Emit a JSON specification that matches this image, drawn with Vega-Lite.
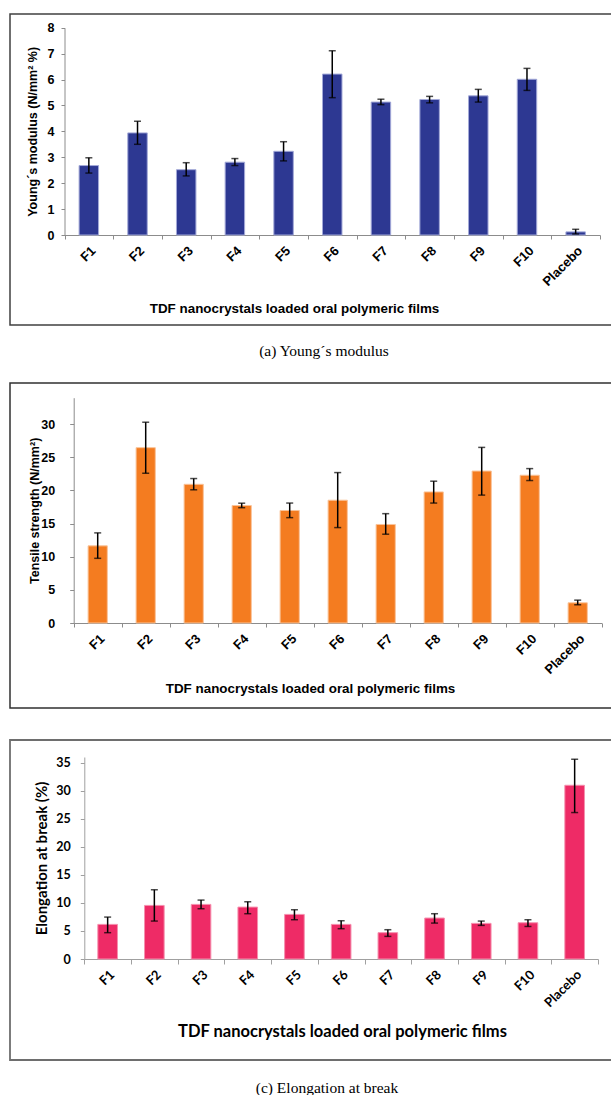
{
  "$schema": "https://vega.github.io/schema/vega-lite/v6.json",
  "padding": {"left": 9, "top": 13, "right": 0, "bottom": 0},
  "background": "white",
  "datasets": {
    "films": [
      {"film": "F1", "ym": 2.68, "ym_lo": 2.39, "ym_hi": 2.98, "ts": 11.64, "ts_lo": 9.76, "ts_hi": 13.6, "eb": 6.17, "eb_lo": 4.69, "eb_hi": 7.47},
      {"film": "F2", "ym": 3.94, "ym_lo": 3.5, "ym_hi": 4.39, "ts": 26.46, "ts_lo": 22.6, "ts_hi": 30.3, "eb": 9.55, "eb_lo": 6.76, "eb_hi": 12.34},
      {"film": "F3", "ym": 2.52, "ym_lo": 2.28, "ym_hi": 2.79, "ts": 20.93, "ts_lo": 20.1, "ts_hi": 21.8, "eb": 9.73, "eb_lo": 8.96, "eb_hi": 10.5},
      {"film": "F4", "ym": 2.81, "ym_lo": 2.68, "ym_hi": 2.95, "ts": 17.73, "ts_lo": 17.4, "ts_hi": 18.08, "eb": 9.25, "eb_lo": 8.07, "eb_hi": 10.2},
      {"film": "F5", "ym": 3.23, "ym_lo": 2.86, "ym_hi": 3.6, "ts": 16.98, "ts_lo": 15.9, "ts_hi": 18.1, "eb": 7.95, "eb_lo": 7.0, "eb_hi": 8.78},
      {"film": "F6", "ym": 6.21, "ym_lo": 5.3, "ym_hi": 7.11, "ts": 18.53, "ts_lo": 14.4, "ts_hi": 22.7, "eb": 6.17, "eb_lo": 5.4, "eb_hi": 6.82},
      {"film": "F7", "ym": 5.13, "ym_lo": 5.03, "ym_hi": 5.24, "ts": 14.87, "ts_lo": 13.4, "ts_hi": 16.5, "eb": 4.69, "eb_lo": 4.03, "eb_hi": 5.22},
      {"film": "F8", "ym": 5.23, "ym_lo": 5.1, "ym_hi": 5.35, "ts": 19.78, "ts_lo": 18.1, "ts_hi": 21.4, "eb": 7.3, "eb_lo": 6.4, "eb_hi": 8.07},
      {"film": "F9", "ym": 5.37, "ym_lo": 5.13, "ym_hi": 5.62, "ts": 22.93, "ts_lo": 19.3, "ts_hi": 26.5, "eb": 6.35, "eb_lo": 5.99, "eb_hi": 6.76},
      {"film": "F10", "ym": 6.01, "ym_lo": 5.58, "ym_hi": 6.43, "ts": 22.3, "ts_lo": 21.5, "ts_hi": 23.3, "eb": 6.46, "eb_lo": 5.8, "eb_hi": 7.0},
      {"film": "Placebo", "ym": 0.12, "ym_lo": 0.04, "ym_hi": 0.22, "ts": 3.05, "ts_lo": 2.75, "ts_hi": 3.45, "eb": 30.96, "eb_lo": 26.1, "eb_hi": 35.6}
    ]
  },
  "config": {
    "axis": {"grid": false},
    "title": {"fontWeight": "normal", "color": "#000000"}
  },
  "spacing": 21,
  "vconcat": [
    {
      "width": 602,
      "height": 311,
      "view": {"stroke": "#404040", "strokeWidth": 1.5, "strokeDash": [602, 311, 913]},
      "title": {"text": "(a)  Young´s modulus", "orient": "bottom", "font": "Liberation Serif", "fontSize": 15.5, "fontWeight": "normal", "color": "#000000", "offset": 19, "dx": 13},
      "data": {"name": "films"},
      "encoding": {
        "x": {
          "field": "film", "type": "nominal", "sort": null,
          "scale": {"range": [54.5, 590], "paddingInner": 0, "paddingOuter": 0},
          "axis": {
            "title": "TDF nanocrystals loaded oral polymeric films",
            "offset": -90, "tickBand": "extent", "labelAngle": -45, "labelOverlap": false,
            "domainColor": "#8c8c8c", "tickColor": "#8c8c8c", "tickSize": 4, "labelPadding": 5,
            "labelFont": "Liberation Sans", "labelFontWeight": "bold", "labelFontSize": 13, "labelColor": "#000000",
            "titleFont": "Liberation Sans", "titleFontWeight": "bold", "titleFontSize": 13.4, "titleColor": "#000000",
            "titleX": 284, "titleY": 73, "titleAlign": "center", "titleBaseline": "middle"
          }
        }
      },
      "layer": [
        {
          "mark": {"type": "bar", "color": "#2d3892", "stroke": "#a3a9d8", "strokeWidth": 1, "width": {"band": 0.4}},
          "encoding": {
            "y": {
              "field": "ym", "type": "quantitative",
              "scale": {"domain": [0, 8], "range": [221, 13.7], "nice": false},
              "axis": {
                "title": "Young´s modulus (N/mm² %)", "offset": -54.5, "values": [0, 1, 2, 3, 4, 5, 6, 7, 8], "labelOverlap": false,
                "domainColor": "#8c8c8c", "tickColor": "#8c8c8c", "tickSize": 3.5, "labelPadding": 7,
                "labelFont": "Liberation Sans", "labelFontWeight": "bold", "labelFontSize": 12.5, "labelColor": "#000000",
                "titleFont": "Liberation Sans", "titleFontWeight": "bold", "titleFontSize": 12.5, "titleColor": "#000000",
                "titleX": -31.8, "titleBaseline": "middle"
              }
            }
          }
        },
        {
          "mark": {"type": "rule", "color": "#000000", "strokeWidth": 1.5},
          "encoding": {
            "y": {
              "field": "ym_lo", "type": "quantitative",
              "axis": {
                "title": "Young´s modulus (N/mm² %)", "offset": -54.5, "values": [0, 1, 2, 3, 4, 5, 6, 7, 8], "labelOverlap": false,
                "domainColor": "#8c8c8c", "tickColor": "#8c8c8c", "tickSize": 3.5, "labelPadding": 7,
                "labelFont": "Liberation Sans", "labelFontWeight": "bold", "labelFontSize": 12.5, "labelColor": "#000000",
                "titleFont": "Liberation Sans", "titleFontWeight": "bold", "titleFontSize": 12.5, "titleColor": "#000000",
                "titleX": -31.8, "titleBaseline": "middle"
              }
            },
            "y2": {"field": "ym_hi"}
          }
        },
        {
          "mark": {"type": "tick", "color": "#000000", "size": 7, "thickness": 1.5},
          "encoding": {
            "y": {
              "field": "ym_lo", "type": "quantitative",
              "axis": {
                "title": "Young´s modulus (N/mm² %)", "offset": -54.5, "values": [0, 1, 2, 3, 4, 5, 6, 7, 8], "labelOverlap": false,
                "domainColor": "#8c8c8c", "tickColor": "#8c8c8c", "tickSize": 3.5, "labelPadding": 7,
                "labelFont": "Liberation Sans", "labelFontWeight": "bold", "labelFontSize": 12.5, "labelColor": "#000000",
                "titleFont": "Liberation Sans", "titleFontWeight": "bold", "titleFontSize": 12.5, "titleColor": "#000000",
                "titleX": -31.8, "titleBaseline": "middle"
              }
            }
          }
        },
        {
          "mark": {"type": "tick", "color": "#000000", "size": 7, "thickness": 1.5},
          "encoding": {
            "y": {
              "field": "ym_hi", "type": "quantitative",
              "axis": {
                "title": "Young´s modulus (N/mm² %)", "offset": -54.5, "values": [0, 1, 2, 3, 4, 5, 6, 7, 8], "labelOverlap": false,
                "domainColor": "#8c8c8c", "tickColor": "#8c8c8c", "tickSize": 3.5, "labelPadding": 7,
                "labelFont": "Liberation Sans", "labelFontWeight": "bold", "labelFontSize": 12.5, "labelColor": "#000000",
                "titleFont": "Liberation Sans", "titleFontWeight": "bold", "titleFontSize": 12.5, "titleColor": "#000000",
                "titleX": -31.8, "titleBaseline": "middle"
              }
            }
          }
        }
      ]
    },
    {
      "spacing": 30,
      "vconcat": [
        {
          "width": 602,
          "height": 325,
          "view": {"stroke": "#303030", "strokeWidth": 1.5, "strokeDash": [602, 325, 927]},
          "data": {"name": "films"},
          "encoding": {
            "x": {
              "field": "film", "type": "nominal", "sort": null,
              "scale": {"range": [63.7, 591.7], "paddingInner": 0, "paddingOuter": 0},
              "axis": {
                "title": "TDF nanocrystals loaded oral polymeric films",
                "offset": -85, "tickBand": "extent", "labelAngle": -45, "labelOverlap": false,
                "domainColor": "#8c8c8c", "tickColor": "#8c8c8c", "tickSize": 4, "labelPadding": 5,
                "labelFont": "Liberation Sans", "labelFontWeight": "bold", "labelFontSize": 13, "labelColor": "#000000",
                "titleFont": "Liberation Sans", "titleFontWeight": "bold", "titleFontSize": 13.4, "titleColor": "#000000",
                "titleX": 300, "titleY": 65, "titleAlign": "center", "titleBaseline": "middle"
              }
            }
          },
          "layer": [
            {
              "mark": {"type": "bar", "color": "#f47c20", "stroke": "#f9c49a", "strokeWidth": 1, "width": {"band": 0.4}},
              "encoding": {
                "y": {
                  "field": "ts", "type": "quantitative",
                  "scale": {"domain": [0, 34], "range": [240, 14.7], "nice": false},
                  "axis": {
                    "title": "Tensile strength (N/mm²)", "offset": -63.7, "values": [0, 5, 10, 15, 20, 25, 30], "labelOverlap": false,
                    "domainColor": "#8c8c8c", "tickColor": "#8c8c8c", "tickSize": 4, "labelPadding": 15,
                    "labelFont": "Liberation Sans", "labelFontWeight": "bold", "labelFontSize": 12.5, "labelColor": "#000000",
                    "titleFont": "Liberation Sans", "titleFontWeight": "bold", "titleFontSize": 12.5, "titleColor": "#000000",
                    "titleX": -39, "titleBaseline": "middle"
                  }
                }
              }
            },
            {
              "mark": {"type": "rule", "color": "#000000", "strokeWidth": 1.5},
              "encoding": {
                "y": {
                  "field": "ts_lo", "type": "quantitative",
                  "axis": {
                    "title": "Tensile strength (N/mm²)", "offset": -63.7, "values": [0, 5, 10, 15, 20, 25, 30], "labelOverlap": false,
                    "domainColor": "#8c8c8c", "tickColor": "#8c8c8c", "tickSize": 4, "labelPadding": 15,
                    "labelFont": "Liberation Sans", "labelFontWeight": "bold", "labelFontSize": 12.5, "labelColor": "#000000",
                    "titleFont": "Liberation Sans", "titleFontWeight": "bold", "titleFontSize": 12.5, "titleColor": "#000000",
                    "titleX": -39, "titleBaseline": "middle"
                  }
                },
                "y2": {"field": "ts_hi"}
              }
            },
            {
              "mark": {"type": "tick", "color": "#000000", "size": 7, "thickness": 1.5},
              "encoding": {
                "y": {
                  "field": "ts_lo", "type": "quantitative",
                  "axis": {
                    "title": "Tensile strength (N/mm²)", "offset": -63.7, "values": [0, 5, 10, 15, 20, 25, 30], "labelOverlap": false,
                    "domainColor": "#8c8c8c", "tickColor": "#8c8c8c", "tickSize": 4, "labelPadding": 15,
                    "labelFont": "Liberation Sans", "labelFontWeight": "bold", "labelFontSize": 12.5, "labelColor": "#000000",
                    "titleFont": "Liberation Sans", "titleFontWeight": "bold", "titleFontSize": 12.5, "titleColor": "#000000",
                    "titleX": -39, "titleBaseline": "middle"
                  }
                }
              }
            },
            {
              "mark": {"type": "tick", "color": "#000000", "size": 7, "thickness": 1.5},
              "encoding": {
                "y": {
                  "field": "ts_hi", "type": "quantitative",
                  "axis": {
                    "title": "Tensile strength (N/mm²)", "offset": -63.7, "values": [0, 5, 10, 15, 20, 25, 30], "labelOverlap": false,
                    "domainColor": "#8c8c8c", "tickColor": "#8c8c8c", "tickSize": 4, "labelPadding": 15,
                    "labelFont": "Liberation Sans", "labelFontWeight": "bold", "labelFontSize": 12.5, "labelColor": "#000000",
                    "titleFont": "Liberation Sans", "titleFontWeight": "bold", "titleFontSize": 12.5, "titleColor": "#000000",
                    "titleX": -39, "titleBaseline": "middle"
                  }
                }
              }
            }
          ]
        },
        {
          "width": 602,
          "height": 320,
          "view": {"stroke": "#6e6e6e", "strokeWidth": 1.8, "strokeDash": [602, 320, 922]},
          "title": {"text": "(c)  Elongation at break", "orient": "bottom", "font": "Liberation Serif", "fontSize": 15.5, "fontWeight": "normal", "color": "#000000", "offset": 21, "dx": 16},
          "data": {"name": "films"},
          "encoding": {
            "x": {
              "field": "film", "type": "nominal", "sort": null,
              "scale": {"range": [74.3, 588], "paddingInner": 0, "paddingOuter": 0},
              "axis": {
                "title": "TDF nanocrystals loaded oral polymeric films",
                "offset": -101, "tickBand": "extent", "labelAngle": -45, "labelOverlap": false,
                "domainColor": "#a0a0a0", "tickColor": "#a0a0a0", "tickSize": 5, "labelPadding": 4,
                "labelFont": "Lato", "labelFontWeight": "bold", "labelFontSize": 13, "labelColor": "#000000",
                "titleFont": "Lato", "titleFontWeight": "bold", "titleFontSize": 16.5, "titleColor": "#000000",
                "titleX": 332, "titleY": 72, "titleAlign": "center", "titleBaseline": "middle"
              }
            }
          },
          "layer": [
            {
              "mark": {"type": "bar", "color": "#ee2b66", "stroke": "#f590ae", "strokeWidth": 1, "width": {"band": 0.42}},
              "encoding": {
                "y": {
                  "field": "eb", "type": "quantitative",
                  "scale": {"domain": [0, 36], "range": [219, 17], "nice": false},
                  "axis": {
                    "title": "Elongation at break (%)", "offset": -74.3, "values": [0, 5, 10, 15, 20, 25, 30, 35], "labelOverlap": false,
                    "domainColor": "#a0a0a0", "tickColor": "#a0a0a0", "tickSize": 4, "labelPadding": 10,
                    "labelFont": "Lato", "labelFontWeight": "bold", "labelFontSize": 12.5, "labelColor": "#000000",
                    "titleFont": "Lato", "titleFontWeight": "bold", "titleFontSize": 15, "titleColor": "#000000",
                    "titleX": -43, "titleBaseline": "middle"
                  }
                }
              }
            },
            {
              "mark": {"type": "rule", "color": "#000000", "strokeWidth": 1.5},
              "encoding": {
                "y": {
                  "field": "eb_lo", "type": "quantitative",
                  "axis": {
                    "title": "Elongation at break (%)", "offset": -74.3, "values": [0, 5, 10, 15, 20, 25, 30, 35], "labelOverlap": false,
                    "domainColor": "#a0a0a0", "tickColor": "#a0a0a0", "tickSize": 4, "labelPadding": 10,
                    "labelFont": "Lato", "labelFontWeight": "bold", "labelFontSize": 12.5, "labelColor": "#000000",
                    "titleFont": "Lato", "titleFontWeight": "bold", "titleFontSize": 15, "titleColor": "#000000",
                    "titleX": -43, "titleBaseline": "middle"
                  }
                },
                "y2": {"field": "eb_hi"}
              }
            },
            {
              "mark": {"type": "tick", "color": "#000000", "size": 7, "thickness": 1.5},
              "encoding": {
                "y": {
                  "field": "eb_lo", "type": "quantitative",
                  "axis": {
                    "title": "Elongation at break (%)", "offset": -74.3, "values": [0, 5, 10, 15, 20, 25, 30, 35], "labelOverlap": false,
                    "domainColor": "#a0a0a0", "tickColor": "#a0a0a0", "tickSize": 4, "labelPadding": 10,
                    "labelFont": "Lato", "labelFontWeight": "bold", "labelFontSize": 12.5, "labelColor": "#000000",
                    "titleFont": "Lato", "titleFontWeight": "bold", "titleFontSize": 15, "titleColor": "#000000",
                    "titleX": -43, "titleBaseline": "middle"
                  }
                }
              }
            },
            {
              "mark": {"type": "tick", "color": "#000000", "size": 7, "thickness": 1.5},
              "encoding": {
                "y": {
                  "field": "eb_hi", "type": "quantitative",
                  "axis": {
                    "title": "Elongation at break (%)", "offset": -74.3, "values": [0, 5, 10, 15, 20, 25, 30, 35], "labelOverlap": false,
                    "domainColor": "#a0a0a0", "tickColor": "#a0a0a0", "tickSize": 4, "labelPadding": 10,
                    "labelFont": "Lato", "labelFontWeight": "bold", "labelFontSize": 12.5, "labelColor": "#000000",
                    "titleFont": "Lato", "titleFontWeight": "bold", "titleFontSize": 15, "titleColor": "#000000",
                    "titleX": -43, "titleBaseline": "middle"
                  }
                }
              }
            }
          ]
        }
      ]
    }
  ]
}
